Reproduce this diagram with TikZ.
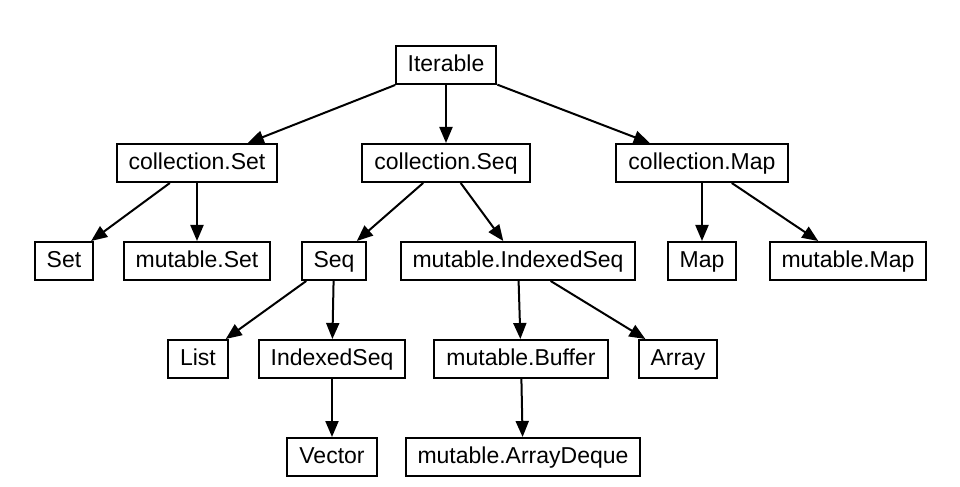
\documentclass[tikz,border=0pt]{standalone}
\usepackage{fontspec}
\setmainfont{Liberation Sans}
\usetikzlibrary{positioning, arrows.meta}

\begin{document}
\begin{tikzpicture}[
            cls/.style={rectangle, line width=1pt, minimum height=19pt, inner xsep=6pt, inner ysep=0pt,
                        text height=8.6pt, text depth=2.4pt, font=\fontsize{11.5pt}{13pt}\selectfont},
            node distance=29pt % vertical gap between levels
        ]
            \useasboundingbox (-223pt,31.5pt) rectangle (257pt,-212pt);

            % Root
            \node[draw, cls] (iter) at (0,-1pt) {Iterable};

            % Level 1
            \node[draw, cls, below=of iter, xshift=-124.5pt] (cset) {collection.Set};
            \node[draw, cls, below=of iter] (cseq) {collection.Seq};
            \node[draw, cls, below=of iter, xshift=128pt] (cmap) {collection.Map};

            % Level 2
            \node[draw, cls, below=of cset, xshift=-66.5pt] (set) {Set};
            \node[draw, cls, below=of cset] (mset) {mutable.Set};
            \node[draw, cls, below=of cseq, xshift=-56pt] (seq) {Seq};
            \node[draw, cls, below=of cseq, xshift=36pt] (miseq) {mutable.IndexedSeq};
            \node[draw, cls, below=of cmap] (map) {Map};
            \node[draw, cls, below=of cmap, xshift=73pt] (mmap) {mutable.Map};

            % Level 3
            \node[draw, cls, below=of seq, xshift=-68pt] (list) {List};
            \node[draw, cls, below=of seq, xshift=-1pt] (iseq) {IndexedSeq};
            \node[draw, cls, below=of miseq, xshift=1.5pt] (mbuf) {mutable.Buffer};
            \node[draw, cls, below=of miseq, xshift=80pt] (array) {Array};

            % Level 4
            \node[draw, cls, below=of iseq] (vector) {Vector};
            \node[draw, cls, below=of mbuf, xshift=1pt] (adeque) {mutable.ArrayDeque};

            % Arrows
            \draw[-{Triangle[length=8pt, width=6.5pt]}, line width=1pt] (iter) -- (cset);
            \draw[-{Triangle[length=8pt, width=6.5pt]}, line width=1pt] (iter) -- (cseq);
            \draw[-{Triangle[length=8pt, width=6.5pt]}, line width=1pt] (iter) -- (cmap);
            \draw[-{Triangle[length=8pt, width=6.5pt]}, line width=1pt] (cset) -- (set);
            \draw[-{Triangle[length=8pt, width=6.5pt]}, line width=1pt] (cset) -- (mset);
            \draw[-{Triangle[length=8pt, width=6.5pt]}, line width=1pt] (cseq) -- (seq);
            \draw[-{Triangle[length=8pt, width=6.5pt]}, line width=1pt] (cseq) -- (miseq);
            \draw[-{Triangle[length=8pt, width=6.5pt]}, line width=1pt] (cmap) -- (map);
            \draw[-{Triangle[length=8pt, width=6.5pt]}, line width=1pt] (cmap) -- (mmap);
            \draw[-{Triangle[length=8pt, width=6.5pt]}, line width=1pt] (seq) -- (list);
            \draw[-{Triangle[length=8pt, width=6.5pt]}, line width=1pt] (seq) -- (iseq);
            \draw[-{Triangle[length=8pt, width=6.5pt]}, line width=1pt] (miseq) -- (mbuf);
            \draw[-{Triangle[length=8pt, width=6.5pt]}, line width=1pt] (miseq) -- (array);
            \draw[-{Triangle[length=8pt, width=6.5pt]}, line width=1pt] (iseq) -- (vector);
            \draw[-{Triangle[length=8pt, width=6.5pt]}, line width=1pt] (mbuf) -- (adeque);

        \end{tikzpicture}
\end{document}
